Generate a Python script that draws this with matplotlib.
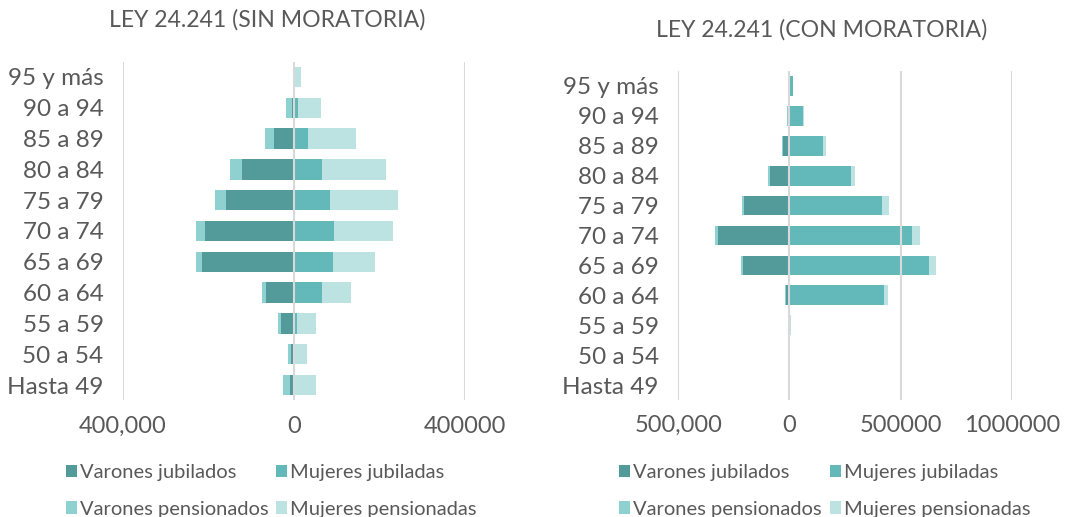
import matplotlib
matplotlib.use("Agg")
import matplotlib.pyplot as plt
import numpy as np

plt.rcParams['font.family'] = ['Lato', 'DejaVu Sans']

grupos = ['Hasta 49', '50 a 54', '55 a 59', '60 a 64', '65 a 69', '70 a 74',
          '75 a 79', '80 a 84', '85 a 89', '90 a 94', '95 y más']

# sin moratoria (de Hasta 49 a 95 y más)
sin_var_jub = [9000, 7000, 30000, 65000, 215000, 209000, 158000, 121000, 46000, 4000, 0]
sin_var_pen = [17000, 6000, 8000, 10000, 14000, 21000, 28000, 28000, 23000, 14000, 1000]
sin_muj_jub = [2000, 2000, 7000, 66000, 91000, 93000, 85000, 66000, 33000, 9000, 1000]
sin_muj_pen = [49000, 28000, 44000, 67000, 98000, 139000, 158000, 149000, 112000, 54000, 16000]

# con moratoria
con_var_jub = [0, 0, 1000, 15000, 210000, 321000, 203000, 86000, 27000, 3000, 0]
con_var_pen = [0, 0, 3000, 4500, 9000, 14000, 10000, 9000, 4500, 6000, 500]
con_muj_jub = [0, 0, 2000, 424000, 629000, 550000, 418000, 278000, 153000, 63000, 15000]
con_muj_pen = [0, 1000, 7000, 18000, 32000, 36000, 28000, 16000, 11000, 1000, 1500]

c_vj = '#539b9b'
c_mj = '#63b9b9'
c_vp = '#8fd0d0'
c_mp = '#bde2e2'
gris = '#595959'

fig = plt.figure(figsize=(10.67, 5.17), dpi=100)
ax1 = fig.add_axes([0.1153, 0.2255, 0.3205, 0.6554])
ax2 = fig.add_axes([0.6357, 0.2264, 0.3125, 0.6362])


def piramide(ax, vj, vp, mj, mp, lims, ticks, ticklabels):
    y = np.arange(len(grupos))
    vj = np.array(vj); vp = np.array(vp); mj = np.array(mj); mp = np.array(mp)
    h = 0.66
    ax.barh(y, -vj, height=h, color=c_vj, label='Varones jubilados', zorder=2)
    ax.barh(y, -vp, left=-vj, height=h, color=c_vp, label='Varones pensionados', zorder=2)
    ax.barh(y, mj, height=h, color=c_mj, label='Mujeres jubiladas', zorder=2)
    ax.barh(y, mp, left=mj, height=h, color=c_mp, label='Mujeres pensionadas', zorder=2)
    for t in ticks:
        ax.axvline(t, color='#d9d9d9', lw=1.5, zorder=3)
    ax.set_xlim(lims)
    ax.set_ylim(-0.5, len(grupos) - 0.5)
    ax.set_yticks(y)
    ax.set_yticklabels(grupos, fontsize=17.5, color=gris)
    ax.set_xticks(ticks)
    ax.set_xticklabels(ticklabels, fontsize=17, color=gris)
    ax.tick_params(axis='y', length=0, pad=14)
    ax.tick_params(axis='x', length=0, pad=11)
    for s in ax.spines.values():
        s.set_visible(False)


piramide(ax1, sin_var_jub, sin_var_pen, sin_muj_jub, sin_muj_pen,
         (-400000, 400000), [-400000, 0, 400000], ['400,000', '0', '400000'])
piramide(ax2, con_var_jub, con_var_pen, con_muj_jub, con_muj_pen,
         (-500000, 1000000), [-500000, 0, 500000, 1000000],
         ['500,000', '0', '500000', '1000000'])

fig.text(0.250, 0.961, 'LEY 24.241 (SIN MORATORIA)', ha='center', va='center',
         fontsize=16.6, color=gris)
fig.text(0.770, 0.942, 'LEY 24.241 (CON MORATORIA)', ha='center', va='center',
         fontsize=16.6, color=gris)

for ax, x0 in [(ax1, 0.052), (ax2, 0.571)]:
    fig.legend(*ax.get_legend_handles_labels(), loc='upper left',
               bbox_to_anchor=(x0, 0.122), bbox_transform=fig.transFigure,
               ncol=2, frameon=False, fontsize=14.5,
               handlelength=0.55, handleheight=0.6, handletextpad=0.15,
               columnspacing=0.4, labelspacing=0.97, borderpad=0,
               labelcolor=gris)

fig.savefig('out.png', dpi=100)
